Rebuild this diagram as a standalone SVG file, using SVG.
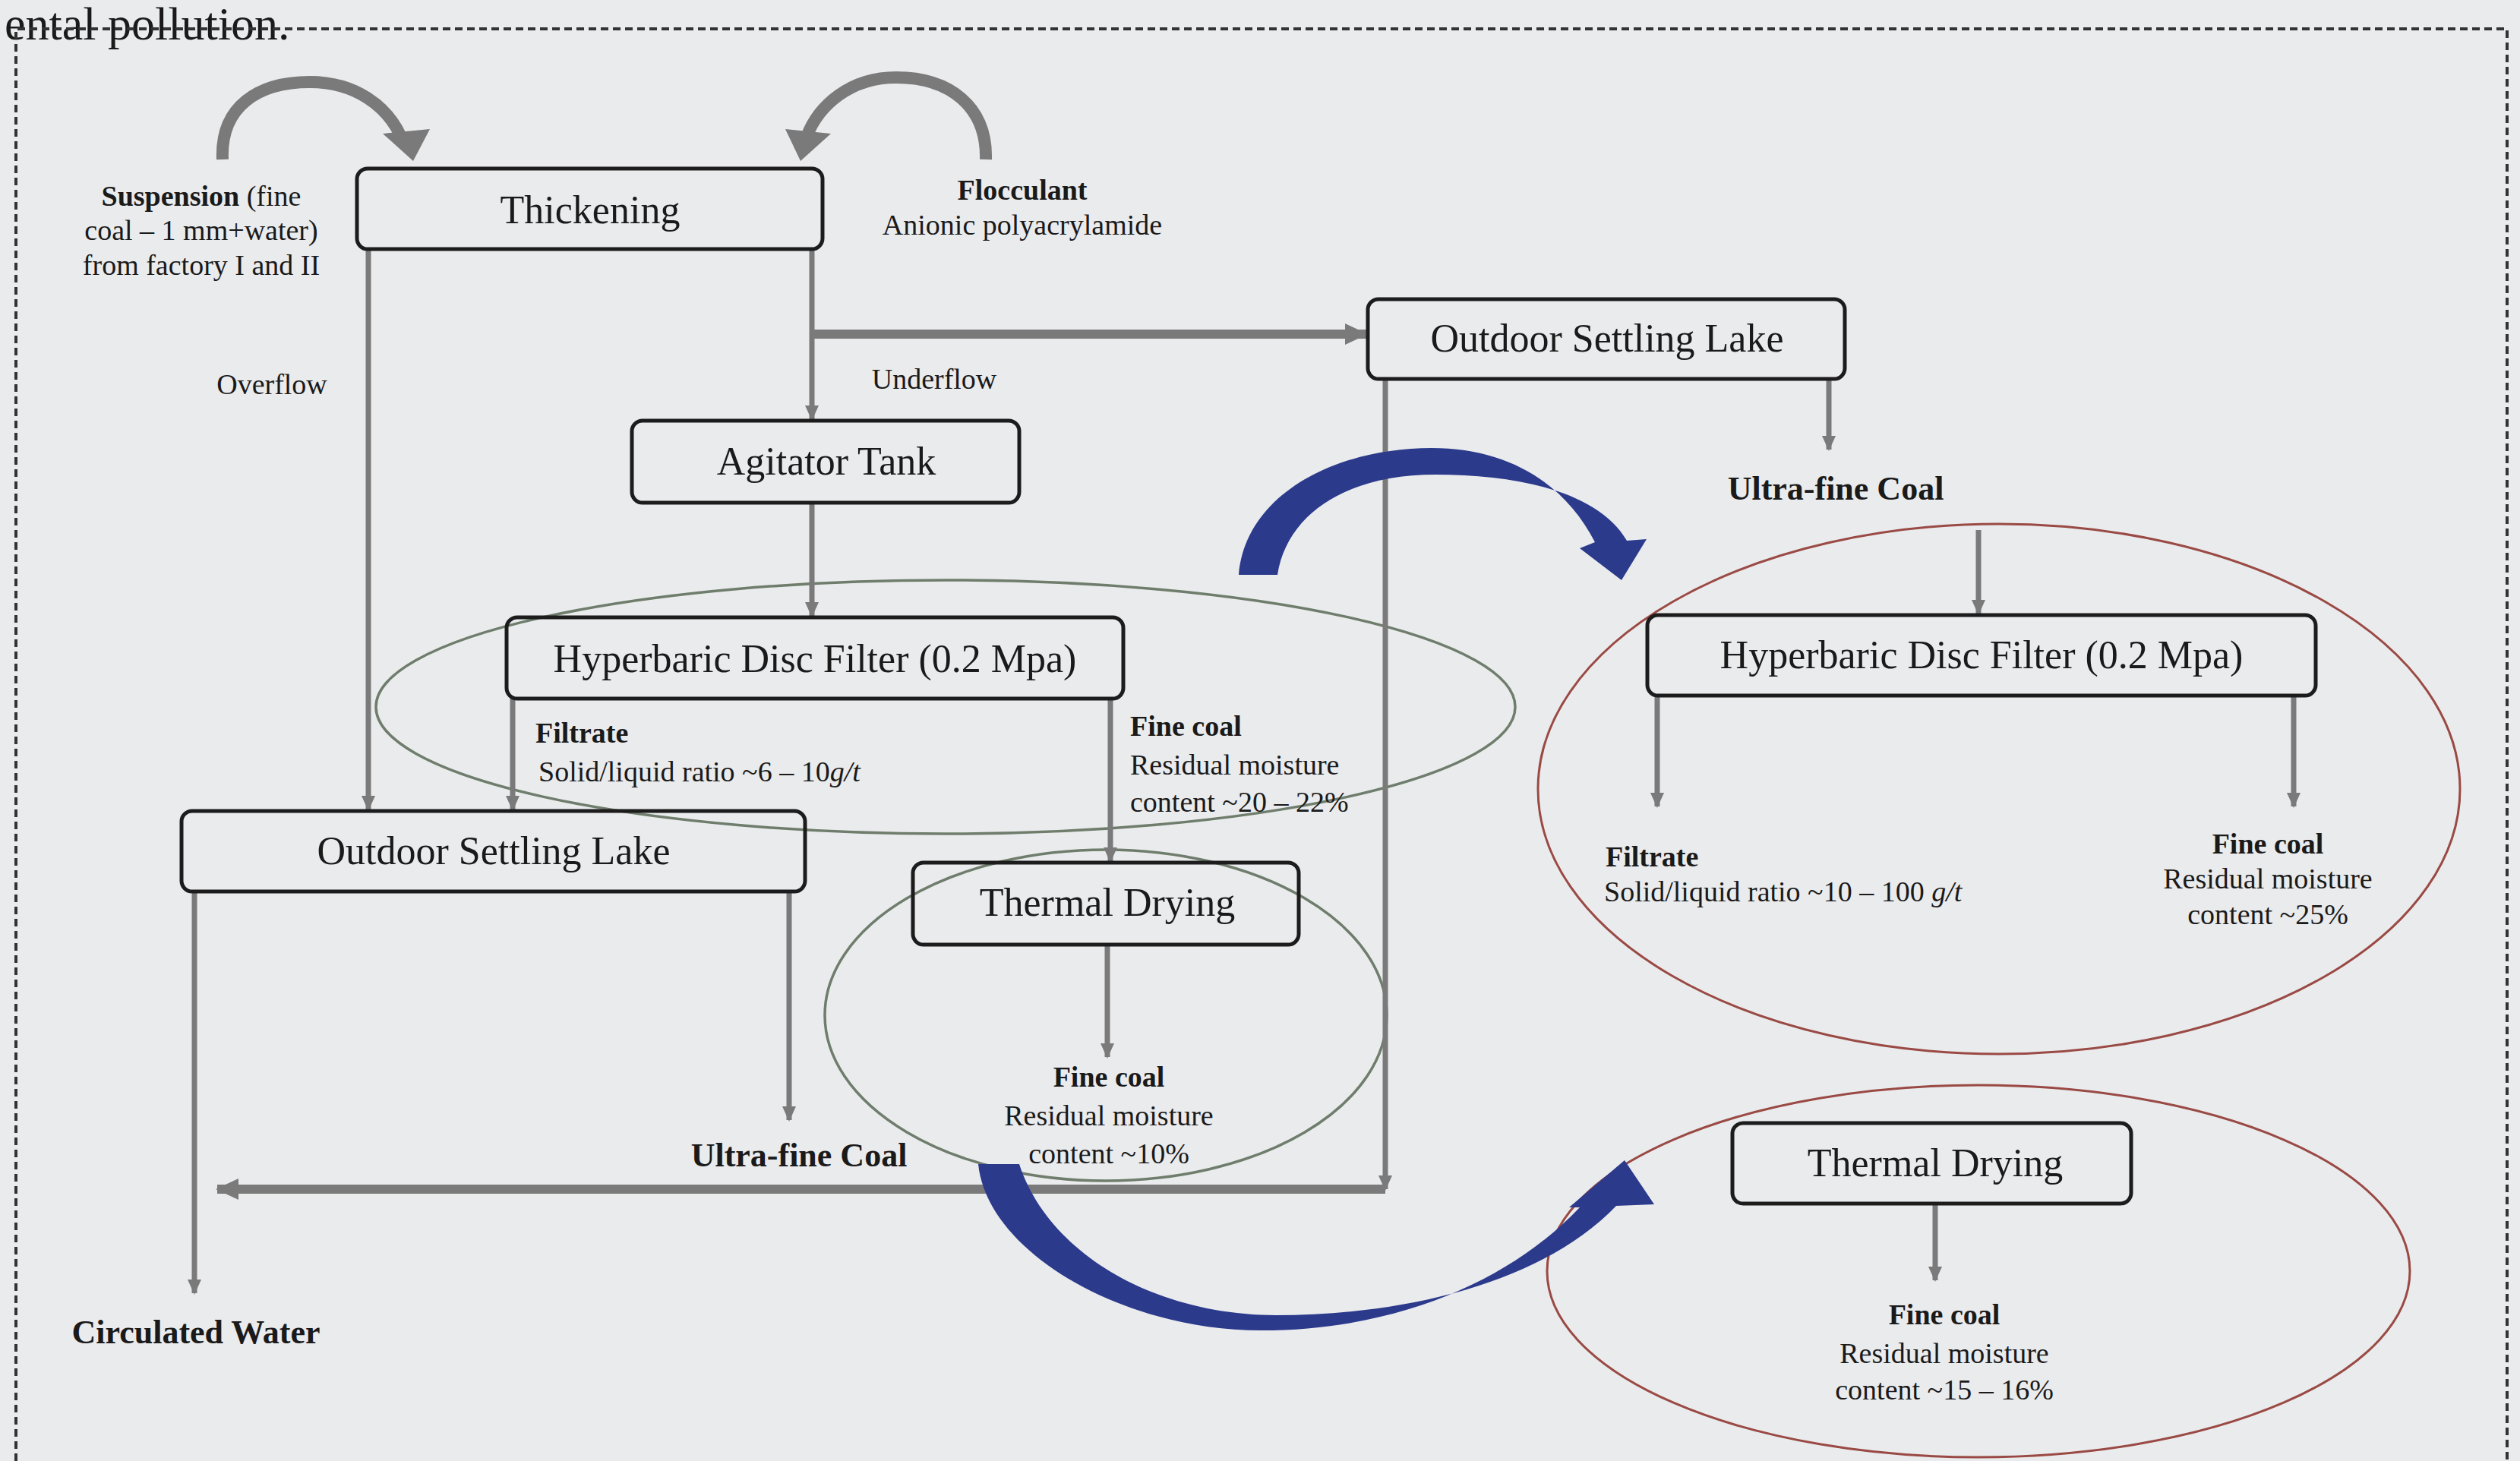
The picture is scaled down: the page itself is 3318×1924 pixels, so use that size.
<svg xmlns="http://www.w3.org/2000/svg" width="3318" height="1924" viewBox="0 0 3318 1924">
<style>
.bg{fill:#eaebed}
.box{fill:none;stroke:#1c1c1c;stroke-width:5}
.lbl{font-family:"Liberation Serif","Times New Roman",serif;font-size:52px;fill:#1a1a1a;text-anchor:middle}
.sm{font-family:"Liberation Serif","Times New Roman",serif;font-size:38px;fill:#1a1a1a}
.bd{font-family:"Liberation Serif","Times New Roman",serif;font-size:44px;font-weight:bold;fill:#1a1a1a;text-anchor:middle}
.b{font-weight:bold}
.c{text-anchor:middle}
.ln{fill:none;stroke:#7a7a7a;stroke-width:7}
.thick{stroke-width:12}
.ellg{fill:none;stroke:#6f7d6c;stroke-width:3.5}
.ellr{fill:none;stroke:#9a4a44;stroke-width:3}
.blue{fill:#2c3a8c}
.garc{fill:none;stroke:#7a7a7a;stroke-width:16}
.ghead{fill:#7a7a7a}
.border{fill:none;stroke:#333;stroke-width:4;stroke-dasharray:10 6}
</style>
<defs>
<marker id="ah" markerUnits="userSpaceOnUse" markerWidth="22" markerHeight="22" refX="18" refY="11" orient="auto"><path d="M0,2 L20,11 L0,20 Z" fill="#7a7a7a"/></marker>
<marker id="ahb" markerUnits="userSpaceOnUse" markerWidth="34" markerHeight="34" refX="28" refY="17" orient="auto"><path d="M0,3 L30,17 L0,31 Z" fill="#7a7a7a"/></marker>
</defs>
<rect class="bg" x="0" y="0" width="3318" height="1924"/>
<text x="6" y="52" style="font-family:'Liberation Serif',serif;font-size:62px;fill:#1a1a1a">ental pollution.</text>
<g id="border">
<path class="border" d="M21,1924 V38 H3301 V1924"/>
</g>
<g id="ellipses">
<ellipse class="ellg" cx="1245" cy="931" rx="750" ry="167"/>
<ellipse class="ellg" cx="1456" cy="1337" rx="370" ry="218"/>
<ellipse class="ellr" cx="2632" cy="1039" rx="607" ry="349"/>
<ellipse class="ellr" cx="2605" cy="1674" rx="568" ry="245"/>
</g>
<g id="connectors">
<path class="ln" d="M485,328 V1066" marker-end="url(#ah)"/>
<path class="ln" d="M1069,328 V552" marker-end="url(#ah)"/>
<path class="ln thick" d="M1069,440 H1799" marker-end="url(#ahb)"/>
<path class="ln" d="M1069,662 V811" marker-end="url(#ah)"/>
<path class="ln" d="M675,920 V1066" marker-end="url(#ah)"/>
<path class="ln" d="M1462,920 V1134" marker-end="url(#ah)"/>
<path class="ln" d="M256,1174 V1703" marker-end="url(#ah)"/>
<path class="ln" d="M1039,1174 V1475" marker-end="url(#ah)"/>
<path class="ln" d="M1458,1244 V1392" marker-end="url(#ah)"/>
<path class="ln" d="M1824,499 V1566" marker-end="url(#ah)"/>
<path class="ln thick" d="M1824,1566 H286" marker-end="url(#ahb)"/>
<path class="ln" d="M2408,499 V592" marker-end="url(#ah)"/>
<path class="ln" d="M2605,698 V808" marker-end="url(#ah)"/>
<path class="ln" d="M2182,916 V1062" marker-end="url(#ah)"/>
<path class="ln" d="M3020,916 V1062" marker-end="url(#ah)"/>
<path class="ln" d="M2548,1585 V1686" marker-end="url(#ah)"/>
<path class="garc" d="M293,210 C290,140 340,108 408,108 C468,108 510,140 528,180"/>
<polygon class="ghead" points="504,176 566,170 544,212"/>
<path class="garc" d="M1298,210 C1300,140 1250,102 1180,102 C1120,102 1078,138 1062,180"/>
<polygon class="ghead" points="1034,170 1094,176 1054,212"/>
<path class="blue" d="M1631,757 C1640,650 1760,590 1885,590 C1990,590 2062,640 2100,714 L2080,722 L2135,764 L2168,710 L2142,712 C2105,648 2000,625 1890,625 C1775,625 1695,675 1682,757 Z"/>
<path class="blue" d="M1288,1533 C1300,1650 1480,1752 1660,1752 C1850,1752 1995,1680 2080,1590 L2066,1590 L2139,1528 L2178,1586 L2128,1588 C2030,1690 1850,1732 1680,1732 C1520,1732 1380,1650 1342,1533 Z"/>
</g>
<g id="suspension">
<text class="sm c" x="265" y="271"><tspan class="b">Suspension</tspan> (fine</text>
<text class="sm c" x="265" y="316">coal – 1 mm+water)</text>
<text class="sm c" x="265" y="362">from factory I and II</text>
</g>
<g id="flocculant">
<text class="sm c b" x="1346" y="263">Flocculant</text>
<text class="sm c" x="1346" y="309">Anionic polyacrylamide</text>
</g>
<g id="thickening">
<rect class="box" x="470" y="222" width="613" height="106" rx="14"/>
<text class="lbl" x="777" y="294">Thickening</text>
</g>
<text class="sm c" x="358" y="519">Overflow</text>
<text class="sm c" x="1230" y="512">Underflow</text>
<g id="agitator">
<rect class="box" x="832" y="554" width="510" height="108" rx="14"/>
<text class="lbl" x="1088" y="625">Agitator Tank</text>
</g>
<g id="hdf1">
<rect class="box" x="667" y="813" width="812" height="107" rx="14"/>
<text class="lbl" x="1073" y="885">Hyperbaric Disc Filter (0.2 Mpa)</text>
</g>
<g id="filtrate1">
<text class="sm b" x="705" y="978">Filtrate</text>
<text class="sm" x="709" y="1029">Solid/liquid ratio ~6 – 10<tspan font-style="italic">g/t</tspan></text>
</g>
<g id="finecoal1">
<text class="sm b" x="1488" y="969">Fine coal</text>
<text class="sm" x="1488" y="1020">Residual moisture</text>
<text class="sm" x="1488" y="1069">content ~20 – 22%</text>
</g>
<g id="osl1">
<rect class="box" x="239" y="1068" width="821" height="106" rx="14"/>
<text class="lbl" x="650" y="1138">Outdoor Settling Lake</text>
</g>
<g id="thermal1">
<rect class="box" x="1202" y="1136" width="508" height="108" rx="14"/>
<text class="lbl" x="1458" y="1206">Thermal Drying</text>
</g>
<g id="finecoal2">
<text class="sm c b" x="1460" y="1431">Fine coal</text>
<text class="sm c" x="1460" y="1482">Residual moisture</text>
<text class="sm c" x="1460" y="1532">content ~10%</text>
</g>
<text id="ultrafine1" class="bd" x="1052" y="1536">Ultra-fine Coal</text>
<text id="circulated" class="bd" x="258" y="1769">Circulated Water</text>
<g id="osl2">
<rect class="box" x="1801" y="394" width="628" height="105" rx="14"/>
<text class="lbl" x="2116" y="463">Outdoor Settling Lake</text>
</g>
<text id="ultrafine2" class="bd" x="2417" y="658">Ultra-fine Coal</text>
<g id="hdf2">
<rect class="box" x="2169" y="810" width="880" height="106" rx="14"/>
<text class="lbl" x="2609" y="880">Hyperbaric Disc Filter (0.2 Mpa)</text>
</g>
<g id="filtrate2">
<text class="sm b" x="2114" y="1141">Filtrate</text>
<text class="sm" x="2112" y="1187">Solid/liquid ratio ~10 – 100 <tspan font-style="italic">g/t</tspan></text>
</g>
<g id="finecoal3">
<text class="sm c b" x="2986" y="1124">Fine coal</text>
<text class="sm c" x="2986" y="1170">Residual moisture</text>
<text class="sm c" x="2986" y="1217">content ~25%</text>
</g>
<g id="thermal2">
<rect class="box" x="2281" y="1479" width="525" height="106" rx="14"/>
<text class="lbl" x="2548" y="1549">Thermal Drying</text>
</g>
<g id="finecoal4">
<text class="sm c b" x="2560" y="1744">Fine coal</text>
<text class="sm c" x="2560" y="1795">Residual moisture</text>
<text class="sm c" x="2560" y="1843">content ~15 – 16%</text>
</g>
</svg>
